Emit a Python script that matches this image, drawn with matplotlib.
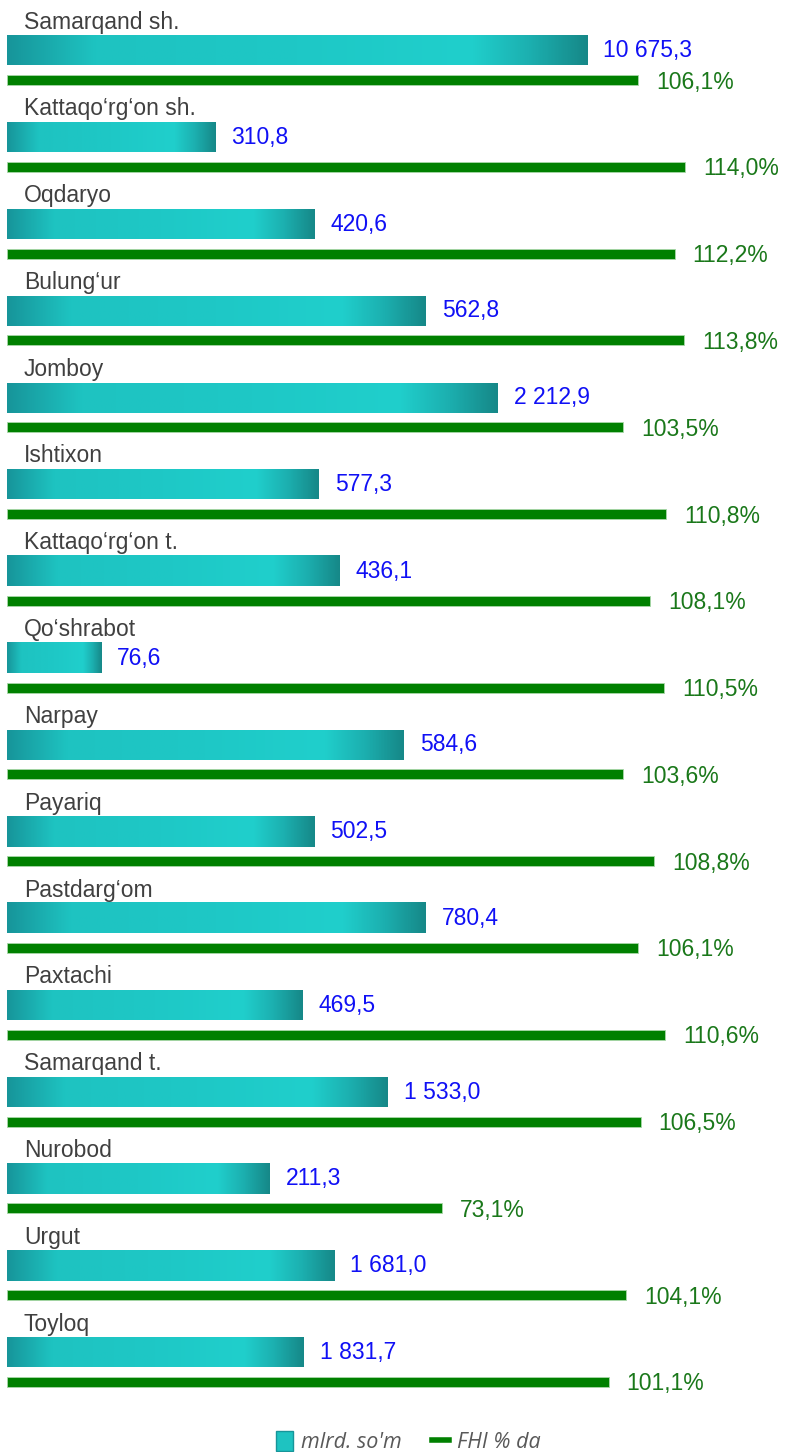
import numpy as np
import matplotlib.pyplot as plt
from matplotlib.colors import LinearSegmentedColormap
from matplotlib.patches import Patch
from matplotlib.lines import Line2D

# districts, top to bottom
districts = ["Samarqand sh.", "Kattaqo‘rg‘on sh.", "Oqdaryo", "Bulung‘ur", "Jomboy",
             "Ishtixon", "Kattaqo‘rg‘on t.", "Qo‘shrabot", "Narpay", "Payariq",
             "Pastdarg‘om", "Paxtachi", "Samarqand t.", "Nurobod", "Urgut", "Toyloq"]
volume = [10675.3, 310.8, 420.6, 562.8, 2212.9, 577.3, 436.1, 76.6, 584.6, 502.5,
          780.4, 469.5, 1533.0, 211.3, 1681.0, 1831.7]
# drawn length of the teal bars (not proportional to volume in the original)
bar_len = [97.5, 35.0, 51.6, 70.4, 82.5, 52.4, 55.8, 15.8, 66.7, 51.6,
           70.4, 49.7, 64.0, 44.2, 55.0, 49.9]
growth = [106.1, 114.0, 112.2, 113.8, 103.5, 110.8, 108.1, 110.5, 103.6, 108.8,
          106.1, 110.6, 106.5, 73.1, 104.1, 101.1]


def fmt_num(v):
    return f"{v:,.1f}".replace(",", " ").replace(".", ",")


teal = LinearSegmentedColormap.from_list("teal", [
    (0.0, "#17959a"), (0.15, "#1ec3c1"), (0.5, "#1ec8c6"),
    (0.8, "#20cfcc"), (0.9, "#1cb0b0"), (1.0, "#168888")])
grad = np.linspace(0, 1, 256).reshape(1, -1)

plt.rcParams["font.family"] = ["Liberation Sans", "DejaVu Sans"]

fig = plt.figure(figsize=(7.85, 14.52), dpi=100)
ax = fig.add_axes([0, 0, 1, 1])

px_x = 5.95   # pixels per x unit
px_y = 86.8   # pixels per group
xlim = (-7 / px_x, (785 - 7) / px_x)
ylim = ((1452 - 50.5) / px_y, -50.5 / px_y)

bar_h = 30 / px_y
line_off = 29.5 / px_y
line_h = 10 / px_y

for i, name in enumerate(districts):
    y = i
    L = bar_len[i]
    ax.imshow(grad, cmap=teal, aspect="auto",
              extent=[0, L, y + bar_h / 2, y - bar_h / 2], zorder=2)
    ax.text(L + 16 / px_x, y, fmt_num(volume[i]), color="#1010f5",
            fontsize=16.5, va="center", ha="left")
    ax.barh(y + line_off, growth[i], height=line_h, left=0, color="#008000",
            edgecolor="#a8d8a8", linewidth=0.6, zorder=2)
    ax.text(growth[i] + 18 / px_x, y + line_off + 2 / px_y,
            f"{growth[i]:.1f}%".replace(".", ","), color="#1a781a",
            fontsize=16.5, va="center", ha="left")
    ax.text(17 / px_x, y - 28.5 / px_y, name, color="#404040",
            fontsize=16.5, va="center", ha="left")

ax.set_xlim(*xlim)
ax.set_ylim(*ylim)
ax.axis("off")

handles = [Patch(facecolor="#1ec3c1", edgecolor="#17959a"),
           Line2D([0], [0], color="#008000", lw=4)]
fig.legend(handles, ["mlrd. so'm", "FHI % da"], loc="center",
           bbox_to_anchor=(0.52, 1 - 1442 / 1452), ncol=2, frameon=False,
           prop={"family": "Open Sans", "style": "italic", "size": 15.5},
           labelcolor="#595959", handlelength=0.8, handleheight=1.1,
           handletextpad=0.35, columnspacing=1.4)

fig.savefig("out.png", dpi=100)
